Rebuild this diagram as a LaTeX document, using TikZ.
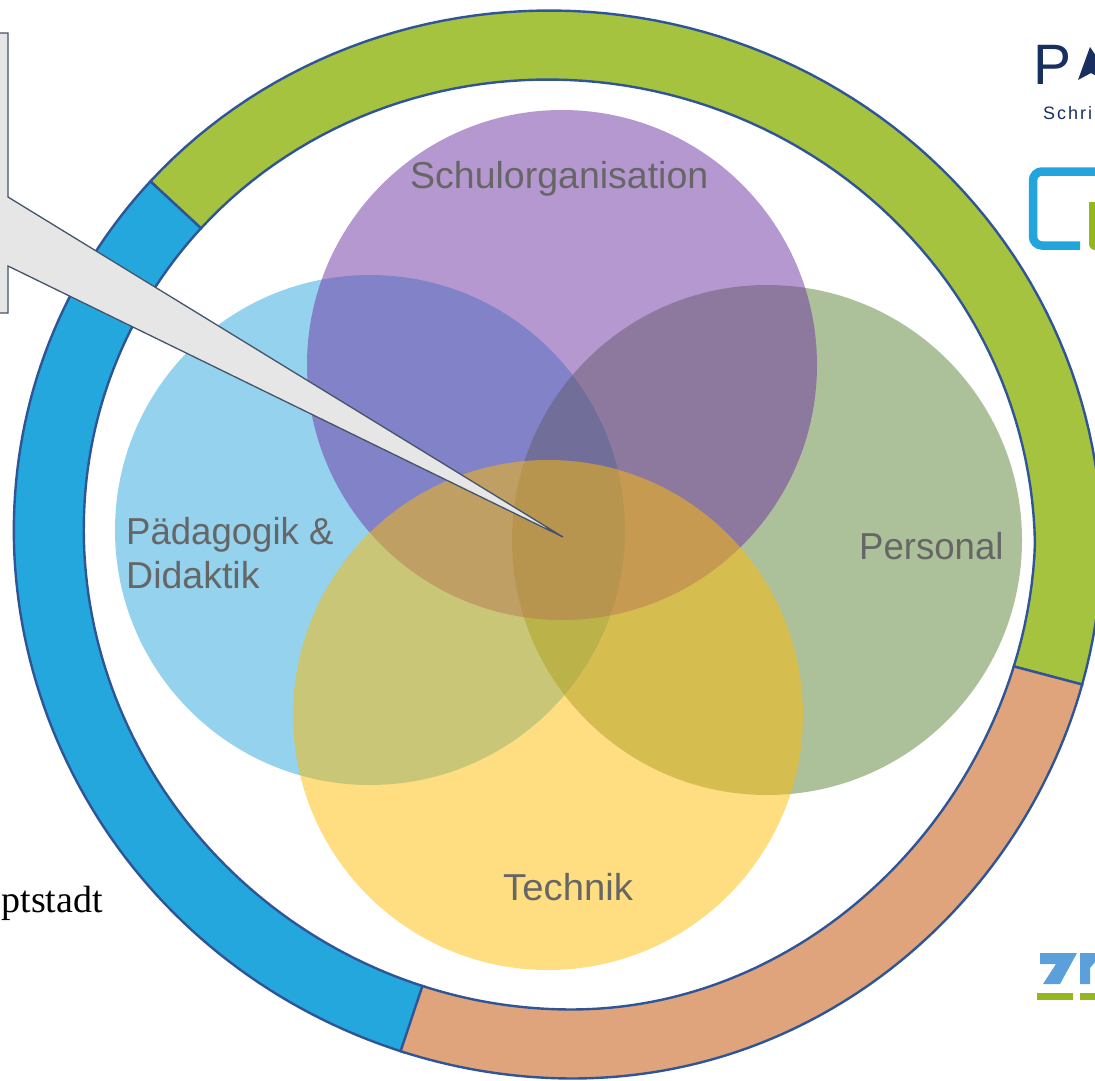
\documentclass[tikz,border=0pt]{standalone}
\usepackage{fontspec}
\setmainfont{Liberation Sans}
\newfontfamily\serifface{Liberation Serif}
\definecolor{ringline}{HTML}{2F5597}
\definecolor{ringgreen}{HTML}{A5C33E}
\definecolor{ringblue}{HTML}{23A7DD}
\definecolor{ringorange}{HTML}{DFA47C}
\definecolor{cblue}{HTML}{2BA7DD}
\definecolor{cpurple}{HTML}{6F33A3}
\definecolor{cgreen}{HTML}{5B8537}
\definecolor{cyellow}{HTML}{FFBC05}
\definecolor{calloutline}{HTML}{44546A}
\definecolor{calloutfill}{HTML}{E6E6E6}
\definecolor{labelgray}{HTML}{666666}
\definecolor{navy}{HTML}{17305F}
\definecolor{logoblue}{HTML}{22A5DC}
\definecolor{logogreen}{HTML}{93B81F}
\definecolor{zblue}{HTML}{5B9FDB}
\tikzset{
  x=1pt,y=-1pt,
  ringseg/.style={draw=ringline,line width=2.4pt,line join=miter},
  bubble/.style={circle,inner sep=0pt,outer sep=0pt,minimum size=510pt,fill opacity=.5},
  venn/.style={anchor=base west,inner sep=0pt,text=labelgray,font=\fontsize{37.5}{44}\selectfont},
}
% ring part: outer parameters #1,#2; inner parameters #3,#4; fill #5
\newcommand{\ringpart}[5]{%
  \draw[ringseg,fill=#5]
    plot[domain=#1:#2,samples=90] ({558+544*cos(\x)+.016*534*sin(\x)-3*sin(2*\x)-6*max(0,sin(\x))*max(0,cos(\x))+6*pow(max(0,sin(\x)),6)},{544.5+534*sin(\x)})
    -- plot[domain=#4:#3,samples=90] ({559.5+475.5*cos(\x)+.025*465*sin(\x)-2*sin(2*\x)-26*max(0,sin(\x))*max(0,cos(\x))},{544.5+465*sin(\x)})
    -- cycle;}
\begin{document}
\begin{tikzpicture}
\useasboundingbox (0,0) rectangle (1095,1080);
\clip (0,0) rectangle (1095,1080);
\fill[white] (0,0) rectangle (1095,1080);
% ring
\ringpart{222.85}{375.2}{222.85}{375.2}{ringgreen}
\ringpart{108.1}{222.85}{108.0}{222.85}{ringblue}
\ringpart{15.2}{108.4}{15.2}{108.3}{ringorange}
% circles
\node[bubble,fill=cblue] (ped) at (370,530) {};
\node[bubble,fill=cgreen] (per) at (767,540) {};
\node[bubble,fill=cpurple] (sch) at (562,365) {};
\node[bubble,fill=cyellow] (tec) at (548,715) {};
% labels
\node[venn] (l1) at (410,188) {Schulorganisation};
\node[venn] (l2a) at (126,544) {\scalebox{.975}[1]{Pädagogik \&}};
\node[venn] (l2b) at (126,588) {Didaktik};
\node[venn] (l3) at (859,559) {\scalebox{.975}[1]{Personal}};
\node[venn] (l4) at (503,900) {\scalebox{1.02}[1]{Technik}};
% callout
\draw[draw=calloutline,fill=calloutfill,line width=1.3pt,line join=miter]
  (-5,33) -- (8,33) -- (8,197) -- (563,537) -- (8,266) -- (8,313) -- (-5,313) -- cycle;
% cropped logos
\node[anchor=base west,inner sep=0pt,text=navy,font=\fontsize{57}{60}\selectfont] (logoP) at (1033,84) {P};
\fill[navy] (1090,47) -- (1078,80) -- (1091,73) -- (1100,78) -- (1100,62) -- cycle;
\node[anchor=base west,inner sep=0pt,text=navy,font=\fontsize{18}{20}\selectfont] (logoS) at (1043,119) {S\kern2pt c\kern2pt h\kern2pt r\kern2pt i};
\draw[logoblue,line width=8.5pt,rounded corners=9pt] (1100,171.5) -- (1033,171.5) -- (1033,245.5) -- (1080,245.5);
\fill[logogreen,rounded corners=6pt] (1089,210) -- (1089,250) -- (1112,250) -- (1112,210) -- cycle;
\fill[logogreen] (1089,202) rectangle (1100,220);
\fill[zblue] (1040,953) -- (1077,953) -- (1060,984) -- (1043,984) -- (1056,964) -- (1040,964) -- cycle;
\fill[zblue] (1080,953) -- (1095,953) -- (1095,962) -- (1090,968) -- (1090,984) -- (1080,984) -- cycle;
\fill[logogreen] (1037,993) rectangle (1073,1000);
\fill[logogreen] (1080,993) rectangle (1095,1000);
\node[anchor=base east,inner sep=0pt,text=black,font=\serifface\fontsize{38}{42}\selectfont] (city) at (103,912) {ptstadt};
\end{tikzpicture}
\end{document}
